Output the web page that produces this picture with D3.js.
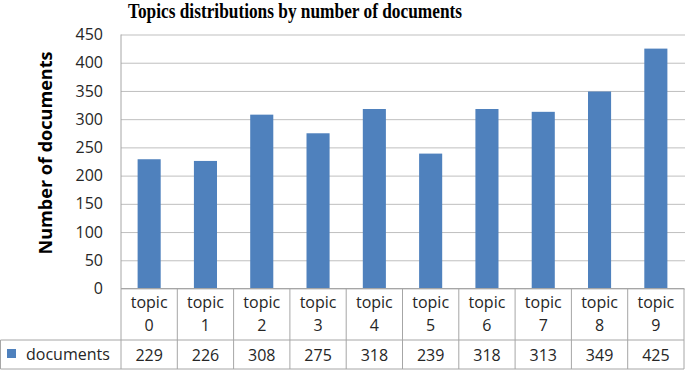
<!DOCTYPE html>
<html>
<head>
<meta charset="utf-8">
<script src="https://cdn.jsdelivr.net/npm/d3@7"></script>
<style>
  body { margin: 0; background: #fff; }
  text { font-family: "Open Sans", sans-serif; fill: #262626; }
</style>
</head>
<body>
<div id="chart"></div>
<script>
'use strict';

const topics = ['0', '1', '2', '3', '4', '5', '6', '7', '8', '9'];
const documents = [229, 226, 308, 275, 318, 239, 318, 313, 349, 425];
const yTicks = [0, 50, 100, 150, 200, 250, 300, 350, 400, 450];
const seriesName = 'documents';

const W = 685, H = 370;
const plotL = 121, plotR = 684, plotT = 34.5, plotB = 288.5;
const rowMid = 340, rowEnd = 369;

const svg = d3.select('#chart').append('svg')
    .attr('width', W)
    .attr('height', H);

const x = d3.scaleBand().domain(topics).range([plotL, plotR]).paddingInner(0.59).paddingOuter(0.295);
const cols = d3.scaleBand().domain(topics).range([plotL, plotR]);
const y = d3.scaleLinear().domain([0, 450]).range([plotB, plotT]);

// title
svg.append('text')
    .attr('x', 295)
    .attr('y', 18)
    .attr('text-anchor', 'middle')
    .attr('textLength', 334)
    .attr('lengthAdjust', 'spacingAndGlyphs')
    .style('font-family', '"Liberation Serif", serif')
    .style('font-weight', 'bold')
    .style('font-size', '20px')
    .style('fill', '#000')
    .text('Topics distributions by number of documents');

// y axis, gridlines
const yAxis = d3.axisLeft(y).tickValues(yTicks).tickSize(-(plotR - plotL + 2)).tickPadding(18);
const ga = svg.append('g')
    .attr('transform', `translate(${plotL}, 0)`)
    .call(yAxis);
ga.select('.domain').remove();
ga.selectAll('.tick line').attr('stroke', '#bfbfbf');
ga.selectAll('.tick text')
    .style('font-size', '16px')
    .style('fill', '#262626');

svg.append('line')
    .attr('x1', plotL).attr('x2', plotL)
    .attr('y1', plotT).attr('y2', rowEnd)
    .attr('stroke', '#a6a6a6');

svg.append('text')
    .attr('transform', `translate(52, 153) rotate(-90)`)
    .attr('text-anchor', 'middle')
    .attr('textLength', 203)
    .attr('lengthAdjust', 'spacingAndGlyphs')
    .style('font-size', '17px')
    .style('font-weight', 'bold')
    .style('fill', '#000')
    .text('Number of documents');

// bars
svg.append('g').selectAll('rect')
    .data(documents)
    .join('rect')
    .attr('x', (d, i) => x(topics[i]))
    .attr('width', x.bandwidth())
    .attr('y', d => y(d))
    .attr('height', d => y(0) - y(d))
    .attr('fill', '#4f81bd');

// data table
const grid = svg.append('g').attr('stroke', '#a6a6a6').attr('fill', 'none');
grid.append('line').attr('x1', plotL).attr('x2', plotR).attr('y1', plotB).attr('y2', plotB);
grid.append('line').attr('x1', 0.5).attr('x2', plotR).attr('y1', rowMid).attr('y2', rowMid);
grid.append('line').attr('x1', 0.5).attr('x2', plotR).attr('y1', rowEnd).attr('y2', rowEnd);
grid.append('line').attr('x1', 0.5).attr('x2', 0.5).attr('y1', rowMid).attr('y2', rowEnd);
grid.selectAll('.col')
    .data(topics)
    .join('line')
    .attr('x1', d => cols(d) + cols.bandwidth())
    .attr('x2', d => cols(d) + cols.bandwidth())
    .attr('y1', plotB)
    .attr('y2', rowEnd);

const cells = svg.append('g').selectAll('g')
    .data(topics)
    .join('g')
    .attr('transform', d => `translate(${cols(d) + cols.bandwidth() / 2}, 0)`);

cells.append('text')
    .attr('y', 308)
    .attr('text-anchor', 'middle')
    .style('font-size', '16px')
    .text('topic');
cells.append('text')
    .attr('y', 331)
    .attr('text-anchor', 'middle')
    .style('font-size', '16px')
    .text(d => d);
cells.append('text')
    .attr('y', 361)
    .attr('text-anchor', 'middle')
    .style('font-size', '16px')
    .text((d, i) => documents[i]);

// legend key in table
svg.append('rect')
    .attr('x', 7).attr('y', 349)
    .attr('width', 9).attr('height', 9)
    .attr('fill', '#4f81bd');
svg.append('text')
    .attr('x', 26).attr('y', 360)
    .style('font-size', '16px')
    .text(seriesName);
</script>
</body>
</html>
